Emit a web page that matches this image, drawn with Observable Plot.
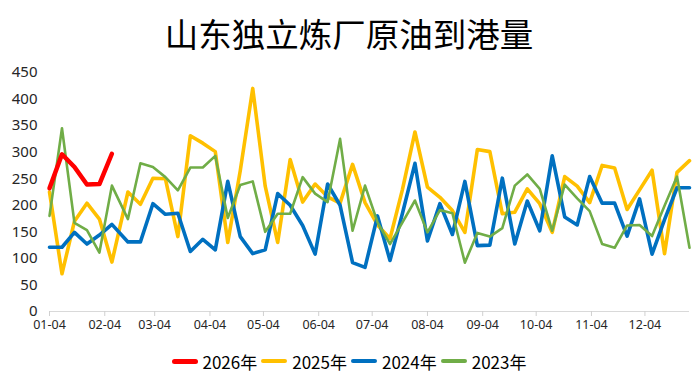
<!DOCTYPE html>
<html>
<head>
<meta charset="utf-8">
<script src="https://cdn.jsdelivr.net/npm/d3@7"></script>
<script src="https://cdn.jsdelivr.net/npm/@observablehq/plot@0.6"></script>
<style>
  html, body { margin: 0; padding: 0; background: #fff; }
  #wrap { width: 698px; height: 381px; position: relative; font-family: "Noto Sans CJK SC", "Noto Sans", sans-serif; }
  #title { box-sizing: border-box; height: 60px; padding-top: 14px; font-size: 33.5px; line-height: 38px; text-align: center; color: #000; white-space: nowrap; }
  #chart svg { display: block; }
  #legend { display: flex; justify-content: center; align-items: center; padding-top: 10px; height: 20px; font-size: 17px; color: #000; }
  .item { display: flex; align-items: center; margin: 0 2px; }
  .sw { display: inline-block; width: 26px; border-radius: 3px; margin-right: 5px; }
</style>
</head>
<body>
<div id="wrap">
  <div id="title">山东独立炼厂原油到港量</div>
  <div id="chart"></div>
  <div id="legend"></div>
</div>
<script>
// Week dates (MM-DD) on the shared date axis
const weeks = ["01-04","01-11","01-18","01-25","02-01","02-08","02-17","02-24",
  "03-03","03-10","03-17","03-24","03-31","04-07","04-14","04-21","04-28",
  "05-05","05-12","05-19","05-26","06-02","06-09","06-16","06-23","06-30",
  "07-07","07-14","07-21","07-28","08-04","08-11","08-18","08-25",
  "09-01","09-08","09-15","09-22","09-29","10-06","10-13","10-20","10-27",
  "11-03","11-10","11-17","11-24","12-01","12-08","12-15","12-22","12-29"];

const seriesNames = ["2026年", "2025年", "2024年", "2023年"];

const v2026 = [232, 296, 272, 239, 240, 297];

const v2025 = [225, 71, 170, 204, 174, 93, 225, 202, 251, 250,
  141, 331, 317, 301, 130, 265, 420, 236, 130, 286,
  206, 240, 216, 204, 277, 205, 163, 137, 230, 338,
  234, 215, 190, 149, 305, 301, 184, 187, 231, 203,
  149, 254, 236, 205, 275, 270, 192, 229, 266, 109,
  262, 284];

const v2024 = [121, 121, 149, 127, 144, 164, 131, 131, 203, 183,
  185, 113, 136, 116, 245, 141, 109, 116, 222, 200,
  162, 108, 240, 200, 92, 83, 180, 96, 185, 279,
  133, 203, 145, 245, 124, 125, 251, 127, 208, 152,
  293, 178, 163, 254, 204, 204, 142, 212, 108, 173,
  233, 233];

const v2023 = [180, 345, 167, 153, 111, 237, 174, 279, 272, 253,
  228, 271, 271, 293, 176, 238, 245, 150, 184, 184,
  253, 222, 206, 325, 152, 237, 168, 127, 168, 209,
  149, 191, 185, 92, 148, 141, 157, 237, 258, 231,
  152, 239, 213, 189, 127, 120, 162, 163, 142, 199,
  254, 120];

const yTicks = [0, 50, 100, 150, 200, 250, 300, 350, 400, 450];
const xTickLabels = ["01-04","02-04","03-04","04-04","05-04","06-04","07-04","08-04","09-04","10-04","11-04","12-04"];

const colors = {"2026年": "#ff0000", "2025年": "#ffc000", "2024年": "#0070c0", "2023年": "#70ad47"};
const widths = {"2026年": 4.5, "2025年": 3.6, "2024年": 3.6, "2023年": 2.6};

const parse = s => d3.utcParse("%Y-%m-%d")("2025-" + s);
const valuesBy = {"2026年": v2026, "2025年": v2025, "2024年": v2024, "2023年": v2023};
const rowsOf = name => valuesBy[name].map((v, i) => ({date: parse(weeks[i]), value: v, series: name}));

const drawOrder = ["2025年", "2024年", "2023年", "2026年"];

const chart = Plot.plot({
  width: 698,
  height: 281,
  marginTop: 12,
  marginBottom: 30,
  marginLeft: 49,
  marginRight: 9,
  style: {fontFamily: "'Noto Sans', 'Noto Sans CJK SC', sans-serif", fontSize: "15px", color: "#262626", background: "white", overflow: "visible"},
  x: {type: "utc", domain: [parse(weeks[0]), parse(weeks[weeks.length - 1])]},
  y: {domain: [0, 450]},
  marks: [
    Plot.ruleY([0], {stroke: "#d9d9d9", strokeWidth: 1}),
    Plot.axisY({ticks: yTicks, tickSize: 0, tickPadding: 12, fontSize: 15, label: null}),
    Plot.axisX({ticks: xTickLabels.map(parse), tickFormat: d3.utcFormat("%m-%d"), tickSize: 5, tickPadding: 4, stroke: "#d0d0d0", fill: "#262626", fontSize: 12.5, label: null}),
    ...drawOrder.map(name => Plot.line(rowsOf(name), {
      x: "date", y: "value",
      stroke: colors[name], strokeWidth: widths[name],
      strokeLinejoin: "round", strokeLinecap: "round"
    }))
  ]
});
document.getElementById("chart").appendChild(chart);

const legend = document.getElementById("legend");
seriesNames.forEach(name => {
  const it = document.createElement("div");
  it.className = "item";
  const sw = document.createElement("span");
  sw.className = "sw";
  sw.style.background = colors[name];
  sw.style.height = (widths[name] + 0.5) + "px";
  const tx = document.createElement("span");
  tx.textContent = name;
  it.appendChild(sw);
  it.appendChild(tx);
  legend.appendChild(it);
});
</script>
</body>
</html>
